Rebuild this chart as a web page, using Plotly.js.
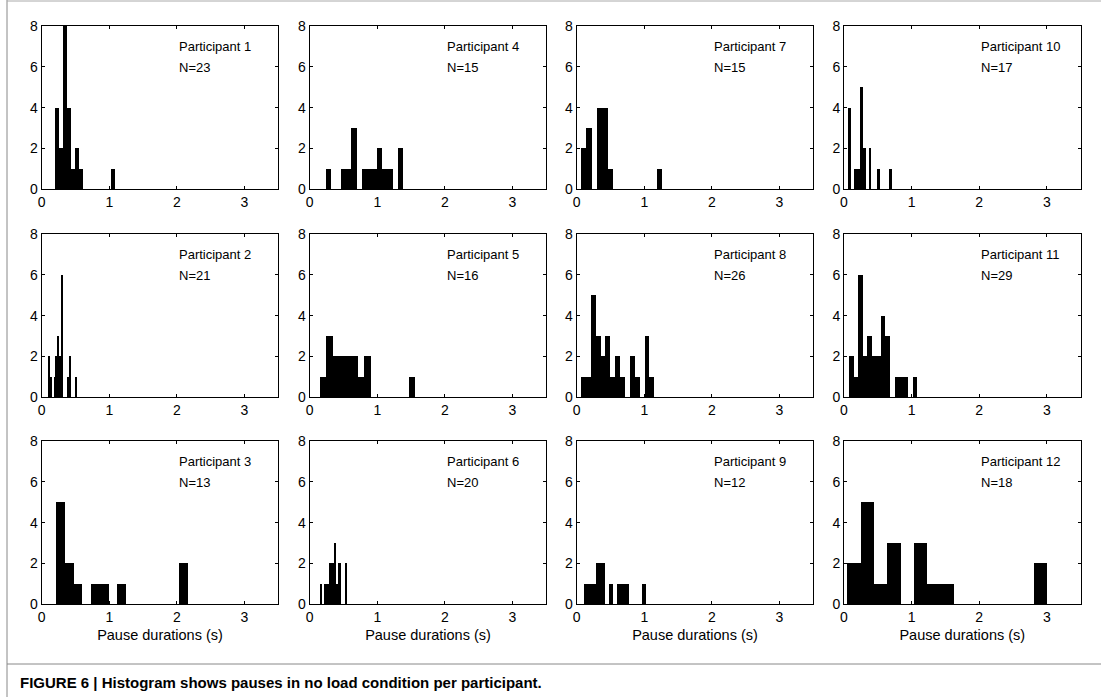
<!DOCTYPE html>
<html>
<head>
<meta charset="utf-8">
<script src="https://cdn.plot.ly/plotly-3.0.1.min.js"></script>
<style>html,body{margin:0;padding:0;background:#fff;}#chart{width:1101px;height:697px;}</style>
</head>
<body>
<div id="chart"></div>
<script>
// ---- data ----
const participantIds = [1, 2, 3, 4, 5, 6, 7, 8, 9, 10, 11, 12];
const nPauses = [23, 21, 13, 15, 16, 20, 15, 26, 12, 17, 29, 18];
// shortest and longest pause (s) = outer edges of each participant's 15 bins
const minDuration = [0.197, 0.089, 0.212, 0.236, 0.153, 0.153, 0.064, 0.064, 0.108, 0.064, 0.074, 0.049];
const maxDuration = [1.089, 0.517, 2.158, 1.379, 1.557, 0.547, 1.261, 1.148, 1.025, 0.704, 1.084, 3.005];
// bin counts
const counts1  = [4, 2, 8, 4, 1, 2, 1, 0, 0, 0, 0, 0, 0, 0, 1];
const counts2  = [2, 1, 0, 1, 2, 3, 2, 6, 0, 0, 1, 2, 0, 0, 1];
const counts3  = [5, 2, 1, 0, 1, 1, 0, 1, 0, 0, 0, 0, 0, 0, 2];
const counts4  = [1, 0, 0, 1, 1, 3, 0, 1, 1, 1, 2, 1, 1, 0, 2];
const counts5  = [1, 3, 2, 2, 2, 2, 1, 2, 0, 0, 0, 0, 0, 0, 1];
const counts6  = [1, 0, 1, 1, 1, 2, 2, 2, 3, 1, 2, 2, 0, 0, 2];
const counts7  = [2, 3, 0, 4, 4, 1, 0, 0, 0, 0, 0, 0, 0, 0, 1];
const counts8  = [1, 1, 5, 3, 2, 3, 1, 2, 1, 0, 2, 1, 0, 3, 1];
const counts9  = [1, 1, 1, 2, 2, 0, 1, 0, 1, 1, 1, 0, 0, 0, 1];
const counts10 = [4, 0, 1, 1, 5, 2, 0, 2, 0, 0, 1, 0, 0, 0, 1];
const counts11 = [2, 1, 6, 2, 3, 2, 2, 4, 3, 0, 1, 1, 1, 0, 1];
const counts12 = [2, 5, 1, 3, 0, 3, 1, 1, 0, 0, 0, 0, 0, 0, 2];
const allCounts = [counts1, counts2, counts3, counts4, counts5, counts6,
                   counts7, counts8, counts9, counts10, counts11, counts12];
const xTicks = [0, 1, 2, 3];
const yTicks = [0, 2, 4, 6, 8];
const xLabel = 'Pause durations (s)';
const caption = '<b>FIGURE 6 | Histogram shows pauses in no load condition per participant.</b>';

// ---- layout geometry ----
const W = 1101, H = 697;
const colLeft = [41.7, 309.7, 576.7, 844];
const panelW = 236.6;
const rowTop = [26, 234, 441];
const panelH = 163.3;
const font = 'Liberation Sans, Arial, Helvetica, sans-serif';

const traces = [];
const layout = {
  width: W, height: H,
  margin: {l: 0, r: 0, t: 0, b: 0},
  paper_bgcolor: '#fff', plot_bgcolor: '#fff',
  showlegend: false,
  font: {family: font, size: 12, color: '#000'},
  bargap: 0,
  annotations: [],
  shapes: []
};

participantIds.forEach((pid, i) => {
  const row = (pid - 1) % 3;
  const col = Math.floor((pid - 1) / 3);
  const k = i + 1;
  const xa = 'xaxis' + (k === 1 ? '' : k), ya = 'yaxis' + (k === 1 ? '' : k);
  const xr = 'x' + (k === 1 ? '' : k), yr = 'y' + (k === 1 ? '' : k);
  const counts = allCounts[i];
  const nb = counts.length;
  const w = (maxDuration[i] - minDuration[i]) / nb;
  const centers = counts.map((_, j) => minDuration[i] + (j + 0.5) * w);
  traces.push({
    type: 'bar', x: centers, y: counts, width: w,
    xaxis: xr, yaxis: yr,
    marker: {color: '#000', line: {width: 0}},
    hoverinfo: 'x+y'
  });
  const x0 = colLeft[col] / W, x1 = (colLeft[col] + panelW) / W;
  const y1 = 1 - rowTop[row] / H, y0 = 1 - (rowTop[row] + panelH) / H;
  layout[xa] = {
    domain: [x0, x1], anchor: yr, range: [0, 3.5],
    tickvals: xTicks, ticktext: xTicks.map(String),
    ticks: 'inside', ticklen: 3, tickcolor: '#000',
    showline: true, linecolor: '#000', linewidth: 1, mirror: 'ticks',
    showgrid: false, zeroline: false,
    tickfont: {family: font, size: 14, color: '#000'},
    title: row === 2 ? {text: xLabel, font: {family: font, size: 14.5, color: '#000'}, standoff: 5} : {text: ''},
    automargin: false
  };
  layout[ya] = {
    domain: [y0, y1], anchor: xr, range: [0, 8],
    tickvals: yTicks, ticktext: yTicks.map(String),
    ticks: 'inside', ticklen: 3, tickcolor: '#000',
    showline: true, linecolor: '#000', linewidth: 1, mirror: 'ticks',
    showgrid: false, zeroline: false,
    tickfont: {family: font, size: 14, color: '#000'},
    automargin: false
  };
  layout.annotations.push({
    xref: xr, yref: yr, x: 2, y: 7, xanchor: 'left', yanchor: 'middle',
    text: 'Participant ' + pid, showarrow: false,
    font: {family: font, size: 13, color: '#000'}
  });
  layout.annotations.push({
    xref: xr, yref: yr, x: 2, y: 5.95, xanchor: 'left', yanchor: 'middle',
    text: 'N=' + nPauses[i], showarrow: false,
    font: {family: font, size: 13, color: '#000'}
  });
});

layout.annotations.push({
  xref: 'paper', yref: 'paper', x: 18 / W, y: 1 - 682 / H,
  xanchor: 'left', yanchor: 'middle', showarrow: false,
  text: caption, font: {family: font, size: 15, color: '#000'}
});
// page frame lines
layout.shapes.push({type: 'line', xref: 'paper', yref: 'paper', x0: 7 / W, x1: 7 / W, y0: 0, y1: 1, line: {color: '#888', width: 1}});
layout.shapes.push({type: 'line', xref: 'paper', yref: 'paper', x0: 7 / W, x1: 1, y0: 1 - 664 / H, y1: 1 - 664 / H, line: {color: '#888', width: 1}});
layout.shapes.push({type: 'line', xref: 'paper', yref: 'paper', x0: 7 / W, x1: 1, y0: 1 - 1 / H, y1: 1 - 1 / H, line: {color: '#aaa', width: 1}});

Plotly.newPlot('chart', traces, layout, {displayModeBar: false, staticPlot: true});
</script>
</body>
</html>
